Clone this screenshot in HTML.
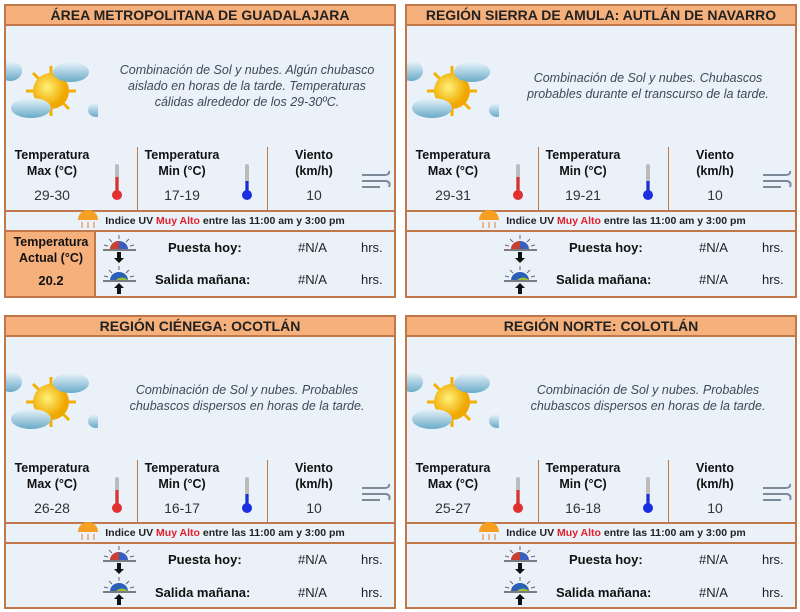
<!DOCTYPE html>
<html><head><meta charset="utf-8"><style>
*{margin:0;padding:0;box-sizing:border-box}
body{width:800px;height:612px;background:#fff;position:relative;overflow:hidden;font-family:"Liberation Sans",sans-serif}
.p{position:absolute;width:392px;height:294px;border:2px solid #c0784a;background:#eaf1f9}
.h{position:absolute;left:0;top:0;width:100%;height:20px;background:#f5b07c;border-bottom:2px solid #c0784a;text-align:center;font-weight:bold;font-size:14px;line-height:19px;color:#222}
.d{position:absolute;left:96px;width:290px;text-align:center;font-style:italic;font-size:12.5px;line-height:16px;color:#3b4a5a;white-space:nowrap}
.l{position:absolute;text-align:center;font-weight:bold;font-size:12.5px;line-height:16px;color:#111}
.v{position:absolute;text-align:center;font-size:14px;color:#333}
.vd{position:absolute;width:1px;background:#c0784a}
.hl{position:absolute;left:0;width:100%;height:2px;background:#c0784a}
.uv{position:absolute;left:0;width:100%;text-align:center;font-weight:bold;font-size:10.5px;color:#222;padding-left:50px}
.uv span{color:#e0202a}
.b{position:absolute;font-weight:bold;font-size:13px;color:#111}
.n{position:absolute;font-size:13px;color:#222}
.ic{position:absolute}
</style></head><body>

<svg width="0" height="0" style="position:absolute"><defs>
<radialGradient id="sg" cx="40%" cy="40%"><stop offset="0" stop-color="#fff27a"/><stop offset="1" stop-color="#f0a800"/></radialGradient>
<linearGradient id="cg" x1="0" y1="0" x2="0" y2="1"><stop offset="0" stop-color="#e8f4fa"/><stop offset="1" stop-color="#6aaac8"/></linearGradient>
<g id="wx">
<g stroke="#f4b000" stroke-width="3">
<line x1="45" y1="10" x2="45" y2="60"/><line x1="20" y1="35" x2="70" y2="35"/><line x1="27" y1="17" x2="63" y2="53"/><line x1="63" y1="17" x2="27" y2="53"/></g>
<circle cx="45" cy="35" r="18" fill="url(#sg)"/>
<ellipse cx="65" cy="16" rx="18" ry="10" fill="url(#cg)"/>
<ellipse cx="25" cy="52" rx="20" ry="10" fill="url(#cg)"/>
<ellipse cx="4" cy="15" rx="12" ry="10" fill="url(#cg)"/>
<ellipse cx="90" cy="54" rx="8" ry="7" fill="url(#cg)"/>
</g>
<g id="wind" stroke="#7a8a98" stroke-width="2" fill="none">
<path d="M2 6 H24 q6 0 5 -4"/><path d="M2 12 H26 q5 1 3 6"/><path d="M2 18 H20"/></g>
<g id="sun1"><g stroke="#666" stroke-width="1"><line x1="17" y1="0" x2="17" y2="4"/><line x1="7" y1="4" x2="10" y2="7"/><line x1="27" y1="4" x2="24" y2="7"/><line x1="2" y1="10" x2="6" y2="11"/><line x1="32" y1="10" x2="28" y2="11"/></g>
<path d="M8 14 A9 8 0 0 1 26 14Z" fill="#3a5ec0"/><path d="M8 14 A9 8 0 0 1 17 6 V14Z" fill="#c84030"/>
<line x1="1" y1="15" x2="34" y2="15" stroke="#555" stroke-width="1.5"/>
<path d="M15 17h4v6h3l-5 5-5-5h3z" fill="#111"/></g>
<g id="sun2"><g stroke="#666" stroke-width="1"><line x1="17" y1="0" x2="17" y2="4"/><line x1="7" y1="4" x2="10" y2="7"/><line x1="27" y1="4" x2="24" y2="7"/><line x1="2" y1="10" x2="6" y2="11"/><line x1="32" y1="10" x2="28" y2="11"/></g>
<path d="M8 14 A9 8 0 0 1 26 14Z" fill="#2a60b8"/><path d="M14 14 A8 7 0 0 1 26 14Z" fill="#9cc030"/>
<line x1="1" y1="15" x2="34" y2="15" stroke="#555" stroke-width="1.5"/>
<path d="M15 28h4v-6h3l-5-5-5 5h3z" fill="#111"/></g>
<g id="uvs"><path d="M2 10 A10 10 0 0 1 22 10Z" fill="#f5a020"/><g stroke="#e08040"><line x1="6" y1="12" x2="6" y2="18"/><line x1="12" y1="12" x2="12" y2="18"/><line x1="18" y1="12" x2="18" y2="18"/></g></g>
</defs></svg>

<div class="p" style="left:4px;top:4px">
 <div class="h">ÁREA METROPOLITANA DE GUADALAJARA</div>
 <svg class="ic" style="left:0;top:50px" width="92" height="70"><use href="#wx"/></svg>
 <div class="d" style="top:56px">Combinación de Sol y nubes. Algún chubasco<br>aislado en horas de la tarde. Temperaturas<br>cálidas alrededor de los 29-30ºC.</div>
 <div class="l" style="left:0;width:92px;top:141px">Temperatura<br>Max (°C)</div>
 <div class="v" style="left:0;width:92px;top:181px">29-30</div>
 <svg class="ic" style="left:104px;top:157px" width="14" height="40"><rect x="5" y="1" width="4" height="28" rx="2" fill="#bbb"/><rect x="5.5" y="14" width="3" height="16" fill="#e03030"/><circle cx="7" cy="32" r="5" fill="#e03030"/></svg>
 <div class="vd" style="left:131px;top:141px;height:64px"></div>
 <div class="l" style="left:130px;width:92px;top:141px">Temperatura<br>Min (°C)</div>
 <div class="v" style="left:130px;width:92px;top:181px">17-19</div>
 <svg class="ic" style="left:234px;top:157px" width="14" height="40"><rect x="5" y="1" width="4" height="28" rx="2" fill="#bbb"/><rect x="5.5" y="18" width="3" height="12" fill="#1a30e0"/><circle cx="7" cy="32" r="5" fill="#1a30e0"/></svg>
 <div class="vd" style="left:261px;top:141px;height:64px"></div>
 <div class="l" style="left:262px;width:92px;top:141px">Viento<br>(km/h)</div>
 <div class="v" style="left:262px;width:92px;top:181px">10</div>
 <svg class="ic" style="left:354px;top:163px" width="34" height="22"><use href="#wind"/></svg>
 <div class="hl" style="top:204px"></div>
 <svg class="ic" style="left:70px;top:204px" width="24" height="20"><use href="#uvs"/></svg>
 <div class="uv" style="top:209px">Indice UV <span>Muy Alto</span> entre las 11:00 am y 3:00 pm</div>
 <div class="hl" style="top:224px"></div>
 <div style="position:absolute;left:0;top:226px;width:90px;height:64px;background:#f5b07c;border-right:2px solid #c0784a"></div>
 <div class="l" style="left:0;width:90px;top:228px">Temperatura<br>Actual (°C)</div>
 <div class="l" style="left:0;width:90px;top:267px;font-size:13px">20.2</div>
 <svg class="ic" style="left:96px;top:229px" width="36" height="30"><use href="#sun1"/></svg>
 <svg class="ic" style="left:96px;top:260px" width="36" height="30"><use href="#sun2"/></svg>
 <div class="b" style="left:162px;top:234px">Puesta hoy:</div>
 <div class="n" style="left:292px;top:234px">#N/A</div>
 <div class="n" style="left:355px;top:234px">hrs.</div>
 <div class="b" style="left:149px;top:266px">Salida mañana:</div>
 <div class="n" style="left:292px;top:266px">#N/A</div>
 <div class="n" style="left:355px;top:266px">hrs.</div>
</div>

<div class="p" style="left:405px;top:4px">
 <div class="h">REGIÓN SIERRA DE AMULA: AUTLÁN DE NAVARRO</div>
 <svg class="ic" style="left:0;top:50px" width="92" height="70"><use href="#wx"/></svg>
 <div class="d" style="top:64px">Combinación de Sol y nubes. Chubascos<br>probables durante el transcurso de la tarde.</div>
 <div class="l" style="left:0;width:92px;top:141px">Temperatura<br>Max (°C)</div>
 <div class="v" style="left:0;width:92px;top:181px">29-31</div>
 <svg class="ic" style="left:104px;top:157px" width="14" height="40"><rect x="5" y="1" width="4" height="28" rx="2" fill="#bbb"/><rect x="5.5" y="14" width="3" height="16" fill="#e03030"/><circle cx="7" cy="32" r="5" fill="#e03030"/></svg>
 <div class="vd" style="left:131px;top:141px;height:64px"></div>
 <div class="l" style="left:130px;width:92px;top:141px">Temperatura<br>Min (°C)</div>
 <div class="v" style="left:130px;width:92px;top:181px">19-21</div>
 <svg class="ic" style="left:234px;top:157px" width="14" height="40"><rect x="5" y="1" width="4" height="28" rx="2" fill="#bbb"/><rect x="5.5" y="18" width="3" height="12" fill="#1a30e0"/><circle cx="7" cy="32" r="5" fill="#1a30e0"/></svg>
 <div class="vd" style="left:261px;top:141px;height:64px"></div>
 <div class="l" style="left:262px;width:92px;top:141px">Viento<br>(km/h)</div>
 <div class="v" style="left:262px;width:92px;top:181px">10</div>
 <svg class="ic" style="left:354px;top:163px" width="34" height="22"><use href="#wind"/></svg>
 <div class="hl" style="top:204px"></div>
 <svg class="ic" style="left:70px;top:204px" width="24" height="20"><use href="#uvs"/></svg>
 <div class="uv" style="top:209px">Indice UV <span>Muy Alto</span> entre las 11:00 am y 3:00 pm</div>
 <div class="hl" style="top:224px"></div>
 <svg class="ic" style="left:96px;top:229px" width="36" height="30"><use href="#sun1"/></svg>
 <svg class="ic" style="left:96px;top:260px" width="36" height="30"><use href="#sun2"/></svg>
 <div class="b" style="left:162px;top:234px">Puesta hoy:</div>
 <div class="n" style="left:292px;top:234px">#N/A</div>
 <div class="n" style="left:355px;top:234px">hrs.</div>
 <div class="b" style="left:149px;top:266px">Salida mañana:</div>
 <div class="n" style="left:292px;top:266px">#N/A</div>
 <div class="n" style="left:355px;top:266px">hrs.</div>
</div>

<div class="p" style="left:4px;top:315px">
 <div class="h">REGIÓN CIÉNEGA: OCOTLÁN</div>
 <svg class="ic" style="left:0;top:50px" width="92" height="70"><use href="#wx"/></svg>
 <div class="d" style="top:65px">Combinación de Sol y nubes. Probables<br>chubascos dispersos en horas de la tarde.</div>
 <div class="l" style="left:0;width:92px;top:143px">Temperatura<br>Max (°C)</div>
 <div class="v" style="left:0;width:92px;top:183px">26-28</div>
 <svg class="ic" style="left:104px;top:159px" width="14" height="40"><rect x="5" y="1" width="4" height="28" rx="2" fill="#bbb"/><rect x="5.5" y="14" width="3" height="16" fill="#e03030"/><circle cx="7" cy="32" r="5" fill="#e03030"/></svg>
 <div class="vd" style="left:131px;top:143px;height:62px"></div>
 <div class="l" style="left:130px;width:92px;top:143px">Temperatura<br>Min (°C)</div>
 <div class="v" style="left:130px;width:92px;top:183px">16-17</div>
 <svg class="ic" style="left:234px;top:159px" width="14" height="40"><rect x="5" y="1" width="4" height="28" rx="2" fill="#bbb"/><rect x="5.5" y="18" width="3" height="12" fill="#1a30e0"/><circle cx="7" cy="32" r="5" fill="#1a30e0"/></svg>
 <div class="vd" style="left:261px;top:143px;height:62px"></div>
 <div class="l" style="left:262px;width:92px;top:143px">Viento<br>(km/h)</div>
 <div class="v" style="left:262px;width:92px;top:183px">10</div>
 <svg class="ic" style="left:354px;top:165px" width="34" height="22"><use href="#wind"/></svg>
 <div class="hl" style="top:205px"></div>
 <svg class="ic" style="left:70px;top:205px" width="24" height="20"><use href="#uvs"/></svg>
 <div class="uv" style="top:210px">Indice UV <span>Muy Alto</span> entre las 11:00 am y 3:00 pm</div>
 <div class="hl" style="top:225px"></div>
 <svg class="ic" style="left:96px;top:229px" width="36" height="30"><use href="#sun1"/></svg>
 <svg class="ic" style="left:96px;top:260px" width="36" height="30"><use href="#sun2"/></svg>
 <div class="b" style="left:162px;top:235px">Puesta hoy:</div>
 <div class="n" style="left:292px;top:235px">#N/A</div>
 <div class="n" style="left:355px;top:235px">hrs.</div>
 <div class="b" style="left:149px;top:268px">Salida mañana:</div>
 <div class="n" style="left:292px;top:268px">#N/A</div>
 <div class="n" style="left:355px;top:268px">hrs.</div>
</div>

<div class="p" style="left:405px;top:315px">
 <div class="h">REGIÓN NORTE: COLOTLÁN</div>
 <svg class="ic" style="left:0;top:50px" width="92" height="70"><use href="#wx"/></svg>
 <div class="d" style="top:65px">Combinación de Sol y nubes. Probables<br>chubascos dispersos en horas de la tarde.</div>
 <div class="l" style="left:0;width:92px;top:143px">Temperatura<br>Max (°C)</div>
 <div class="v" style="left:0;width:92px;top:183px">25-27</div>
 <svg class="ic" style="left:104px;top:159px" width="14" height="40"><rect x="5" y="1" width="4" height="28" rx="2" fill="#bbb"/><rect x="5.5" y="14" width="3" height="16" fill="#e03030"/><circle cx="7" cy="32" r="5" fill="#e03030"/></svg>
 <div class="vd" style="left:131px;top:143px;height:62px"></div>
 <div class="l" style="left:130px;width:92px;top:143px">Temperatura<br>Min (°C)</div>
 <div class="v" style="left:130px;width:92px;top:183px">16-18</div>
 <svg class="ic" style="left:234px;top:159px" width="14" height="40"><rect x="5" y="1" width="4" height="28" rx="2" fill="#bbb"/><rect x="5.5" y="18" width="3" height="12" fill="#1a30e0"/><circle cx="7" cy="32" r="5" fill="#1a30e0"/></svg>
 <div class="vd" style="left:261px;top:143px;height:62px"></div>
 <div class="l" style="left:262px;width:92px;top:143px">Viento<br>(km/h)</div>
 <div class="v" style="left:262px;width:92px;top:183px">10</div>
 <svg class="ic" style="left:354px;top:165px" width="34" height="22"><use href="#wind"/></svg>
 <div class="hl" style="top:205px"></div>
 <svg class="ic" style="left:70px;top:205px" width="24" height="20"><use href="#uvs"/></svg>
 <div class="uv" style="top:210px">Indice UV <span>Muy Alto</span> entre las 11:00 am y 3:00 pm</div>
 <div class="hl" style="top:225px"></div>
 <svg class="ic" style="left:96px;top:229px" width="36" height="30"><use href="#sun1"/></svg>
 <svg class="ic" style="left:96px;top:260px" width="36" height="30"><use href="#sun2"/></svg>
 <div class="b" style="left:162px;top:235px">Puesta hoy:</div>
 <div class="n" style="left:292px;top:235px">#N/A</div>
 <div class="n" style="left:355px;top:235px">hrs.</div>
 <div class="b" style="left:149px;top:268px">Salida mañana:</div>
 <div class="n" style="left:292px;top:268px">#N/A</div>
 <div class="n" style="left:355px;top:268px">hrs.</div>
</div>

</body></html>
